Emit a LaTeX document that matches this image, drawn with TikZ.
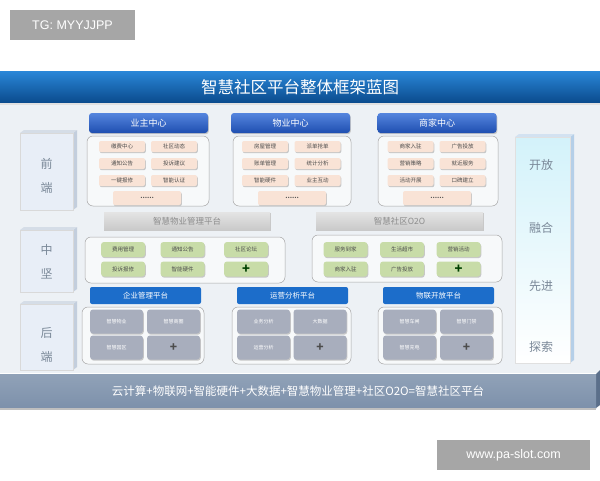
\documentclass[tikz,border=0pt]{standalone}
\usepackage{fontspec}
\setmainfont{Noto Sans CJK SC}
\newfontfamily\lat{Liberation Sans}
\definecolor{titleA}{HTML}{2A87D8}
\definecolor{titleB}{HTML}{0A4A8C}
\definecolor{hdrA}{HTML}{5585DE}
\definecolor{hdrB}{HTML}{1E4EB0}
\definecolor{peach}{HTML}{F9E3D6}
\definecolor{greenc}{HTML}{C8DCA8}
\definecolor{grayA}{HTML}{E4E4E4}
\definecolor{grayB}{HTML}{C9C9C9}
\definecolor{blueb}{HTML}{1C6DCA}
\definecolor{slate}{HTML}{A8AEBD}
\definecolor{panel}{HTML}{EDF1F5}
\definecolor{barc}{HTML}{7D91AB}
\definecolor{bard}{HTML}{5B6F8A}
\definecolor{lface}{HTML}{C3CEDD}
\definecolor{lbody}{HTML}{E8EEF7}
\definecolor{ltxt}{HTML}{7A8898}
\definecolor{cyanA}{HTML}{D3F2FA}
\definecolor{rface}{HTML}{B5CFE8}
\definecolor{wm}{HTML}{A6A6A6}
\begin{document}
\begin{tikzpicture}[x=1pt,y=-1pt,
  shadowed/.style={preaction={draw=none,fill=black!22,transform canvas={shift={(0.8pt,-1.2pt)}}}},
  item/.style={shadowed,rounded corners=2pt,fill=peach,minimum width=46pt,minimum height=11pt,inner sep=0pt,text=black!70,font=\fontsize{5.5}{6}\selectfont},
  dots/.style={item,minimum width=68pt,minimum height=14pt,font=\fontsize{6}{6}\selectfont\bfseries},
  gitem/.style={shadowed,rounded corners=3pt,fill=greenc,minimum width=44pt,minimum height=15pt,inner sep=0pt,text=black!70,font=\fontsize{5.5}{6}\selectfont},
  gplus/.style={gitem,text=green!25!black,font=\fontsize{13}{13}\selectfont\bfseries},
  sitem/.style={shadowed,rounded corners=3pt,fill=slate,minimum width=53pt,minimum height=24pt,inner sep=0pt,text=white,font=\fontsize{5}{6}\selectfont},
  splus/.style={sitem,text=black!70,font=\fontsize{12}{12}\selectfont\bfseries},
  frame/.style={draw=black!35,line width=0.5pt,rounded corners=6pt,fill=white!55!panel},
  hdr/.style={shadowed,rounded corners=3pt,top color=hdrA,bottom color=hdrB,minimum width=119pt,minimum height=20pt,inner sep=0pt,text=white,font=\fontsize{9}{9}\selectfont},
  bhdr/.style={rounded corners=2pt,fill=blueb,minimum width=111pt,minimum height=17pt,inner sep=0pt,text=white,font=\fontsize{7.5}{8}\selectfont},
  plat/.style={shadowed,top color=grayA,bottom color=grayB,minimum height=18pt,inner sep=0pt,text=black!45,font=\fontsize{8.5}{9}\selectfont},
  lbox/.style={draw=black!15,fill=lbody,minimum width=53pt,inner sep=0pt},
  ltext/.style={align=center,text=ltxt,font=\fontsize{12}{24}\selectfont},
  rtext/.style={text=ltxt,font=\fontsize{12}{12}\selectfont},
  wmark/.style={fill=wm,text=white,inner sep=0pt,font=\lat\fontsize{12.5}{13}\selectfont}
]
\useasboundingbox (0,0) rectangle (600,480);
\fill[white] (0,0) rectangle (600,480);
% watermark labels
\node[wmark,minimum width=125pt,minimum height=30pt] (tg) at (72.5,25) {TG: MYYJJPP};
\node[wmark,minimum width=153pt,minimum height=30pt] (www) at (513.5,455) {www.pa-slot.com};
% panel
\fill[panel] (0,103) rectangle (600,373);
% title
\node[top color=titleA,bottom color=titleB,minimum width=600pt,minimum height=32pt,inner sep=0pt,text=white,font=\fontsize{16.5}{17}\selectfont] (title) at (300,87) {智慧社区平台整体框架蓝图};
\fill[black!12] (0,103) rectangle (600,105);

% left labels
\fill[lface] (73,133) -- (77,130) -- (77,207) -- (73,210) -- cycle;
\fill[lface!70!white] (20,133) -- (24,130) -- (77,130) -- (73,133) -- cycle;
\node[lbox,minimum height=77pt] (lf) at (46.5,171.5) {};
\node[ltext] (lft) at (46.5,176) {前\\端};
\fill[lface] (73,230) -- (77,227) -- (77,289) -- (73,292) -- cycle;
\fill[lface!70!white] (20,230) -- (24,227) -- (77,227) -- (73,230) -- cycle;
\node[lbox,minimum height=62pt] (lm) at (46.5,261) {};
\node[ltext] (lmt) at (46.5,261.5) {中\\坚};
\fill[lface] (73,304) -- (77,301) -- (77,367) -- (73,370) -- cycle;
\fill[lface!70!white] (20,304) -- (24,301) -- (77,301) -- (73,304) -- cycle;
\node[lbox,minimum height=66pt] (lb) at (46.5,337) {};
\node[ltext] (lbt) at (46.5,345) {后\\端};

% right column
\fill[rface] (570,137) -- (574,134) -- (574,360) -- (570,363) -- cycle;
\fill[rface!60!white] (515,137) -- (519,134) -- (574,134) -- (570,137) -- cycle;
\node[draw=black!12,top color=cyanA,bottom color=white,minimum width=55pt,minimum height=226pt,inner sep=0pt] (rc) at (542.5,250) {};
\node[rtext] (r1) at (541,165) {开放};
\node[rtext] (r2) at (541,228) {融合};
\node[rtext] (r3) at (541,286) {先进};
\node[rtext] (r4) at (541,347) {探索};

% ---------- front end ----------
\draw[frame] (87,136) rectangle (209,206);
\draw[frame] (233,136) rectangle (351,206);
\draw[frame] (378,136) rectangle (498,206);
\node[hdr] (h1) at (148.5,123) {业主中心};
\node[hdr] (h2) at (290.5,123) {物业中心};
\node[hdr] (h3) at (437,123) {商家中心};

\node[item] (a1) at (122,146.5) {缴费中心};
\node[item] (a2) at (174,146.5) {社区动态};
\node[item] (a3) at (122,163.5) {通知公告};
\node[item] (a4) at (174,163.5) {投诉建议};
\node[item] (a5) at (122,180.5) {一键报修};
\node[item] (a6) at (174,180.5) {智能认证};
\node[dots] (a7) at (147,198) {……};

\node[item] (b1) at (265,146.5) {房屋管理};
\node[item] (b2) at (317.5,146.5) {派单抢单};
\node[item] (b3) at (265,163.5) {账单管理};
\node[item] (b4) at (317.5,163.5) {统计分析};
\node[item] (b5) at (265,180.5) {智能硬件};
\node[item] (b6) at (317.5,180.5) {业主互动};
\node[dots] (b7) at (292,198) {……};

\node[item] (c1) at (410.5,146.5) {商家入驻};
\node[item] (c2) at (462.5,146.5) {广告投放};
\node[item] (c3) at (410.5,163.5) {营销策略};
\node[item] (c4) at (462.5,163.5) {就近服务};
\node[item] (c5) at (410.5,180.5) {活动开展};
\node[item] (c6) at (462.5,180.5) {口碑建立};
\node[dots] (c7) at (437,198) {……};

% ---------- middle ----------
\node[plat,minimum width=166pt] (p1) at (187,221) {智慧物业管理平台};
\node[plat,minimum width=167pt] (p2) at (399.5,221) {智慧社区O2O};
\draw[frame] (85,237) rectangle (285,283);
\draw[frame] (312,235) rectangle (502,282);

\node[gitem] (d1) at (123,249.5) {费用管理};
\node[gitem] (d2) at (182.5,249.5) {通知公告};
\node[gitem] (d3) at (246,249.5) {社区论坛};
\node[gitem] (d4) at (123,269) {投诉报修};
\node[gitem] (d5) at (182.5,269) {智能硬件};
\node[gplus] (d6) at (246,269) {+};

\node[gitem] (e1) at (345.5,249.5) {服务到家};
\node[gitem] (e2) at (402,249.5) {生活超市};
\node[gitem] (e3) at (458.5,249.5) {营销活动};
\node[gitem] (e4) at (345.5,269) {商家入驻};
\node[gitem] (e5) at (402,269) {广告投放};
\node[gplus] (e6) at (458.5,269) {+};

% ---------- back end ----------
\node[bhdr] (k1) at (145.5,295.5) {企业管理平台};
\node[bhdr] (k2) at (292.5,295.5) {运营分析平台};
\node[bhdr] (k3) at (438.5,295.5) {物联开放平台};
\draw[frame] (82,307) rectangle (204,364);
\draw[frame] (232,307) rectangle (351,364);
\draw[frame] (378,307) rectangle (502,364);

\node[sitem] (f1) at (116.5,321.5) {智慧物业};
\node[sitem] (f2) at (173.5,321.5) {智慧商圈};
\node[sitem] (f3) at (116.5,347.5) {智慧园区};
\node[splus] (f4) at (173.5,347.5) {+};

\node[sitem] (g1) at (263.5,321.5) {业务分析};
\node[sitem] (g2) at (320,321.5) {大数据};
\node[sitem] (g3) at (263.5,347.5) {运营分析};
\node[splus] (g4) at (320,347.5) {+};

\node[sitem] (m1) at (409.5,321.5) {智慧车闸};
\node[sitem] (m2) at (466.5,321.5) {智慧门禁};
\node[sitem] (m3) at (409.5,347.5) {智慧充电};
\node[splus] (m4) at (466.5,347.5) {+};

% ---------- bottom bar ----------
\fill[bard] (596,374) -- (600,370) -- (600,405) -- (596,408) -- cycle;
\node[top color=barc!85!white,bottom color=barc,minimum width=596pt,minimum height=34pt,inner sep=0pt,text=white,font=\fontsize{11.5}{12}\selectfont] (bar) at (298,391) {云计算+物联网+智能硬件+大数据+智慧物业管理+社区O2O=智慧社区平台};
\fill[black!25] (0,408) rectangle (596,409.5);
\end{tikzpicture}
\end{document}
